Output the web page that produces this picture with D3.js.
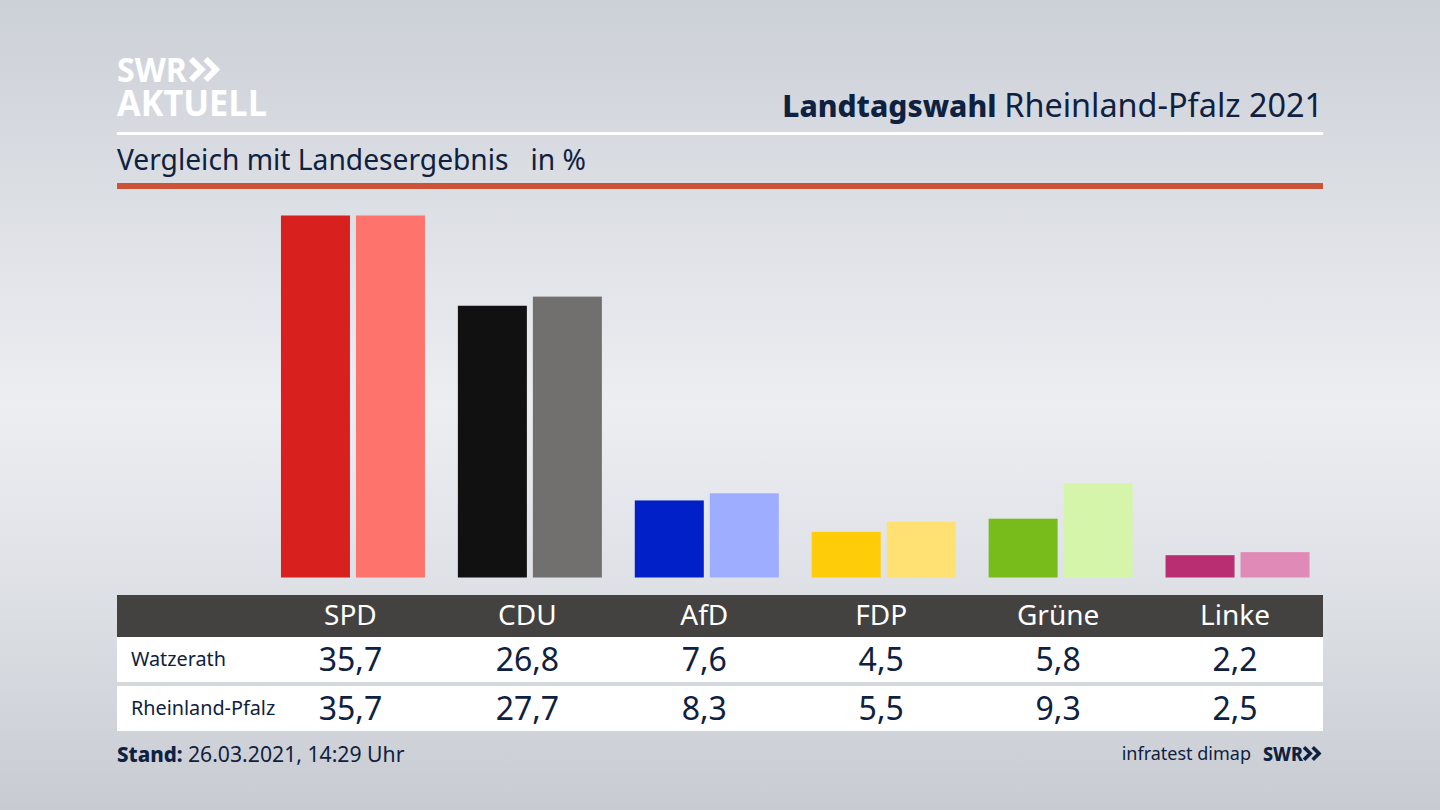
<!DOCTYPE html>
<html><head><meta charset="utf-8">
<script src="https://cdn.jsdelivr.net/npm/d3@7/dist/d3.min.js"></script>
<style>html,body{margin:0;padding:0;background:#dfe1e6;overflow:hidden}svg{display:block}text{font-family:"Noto Sans",sans-serif}</style>
</head><body><svg id="c" width="1440" height="810"></svg>
<script>
const parties=["SPD","CDU","AfD","FDP","Grüne","Linke"];
const rows=["Watzerath","Rheinland-Pfalz"];
const watzerath=[35.7,26.8,7.6,4.5,5.8,2.2];
const rheinlandPfalz=[35.7,27.7,8.3,5.5,9.3,2.5];
const colorsLocal=["#d8201f","#111111","#0220c8","#ffcc0a","#78bc1c","#b92e72"];
const colorsState=["#ff736d","#72706e","#9eadff","#ffe173","#d5f6aa","#e08ab8"];
const ink="#0f2140";

const svg=d3.select("#c");
const defs=svg.append("defs");
const g=defs.append("linearGradient").attr("id","bg").attr("x1",0).attr("x2",0).attr("y1",0).attr("y2",1);
[[0,"#ccd0d7"],[0.25,"#dcdfe4"],[0.5,"#eceef2"],[0.75,"#dcdfe4"],[1,"#c8ccd2"]].forEach(d=>g.append("stop").attr("offset",d[0]).attr("stop-color",d[1]));
svg.append("rect").attr("width",1440).attr("height",810).attr("fill","url(#bg)");

const x=d3.scaleBand().domain(parties).range([264.5,1326]);
const inner=d3.scaleBand().domain([0,1]).range([-72,72]).paddingInner(0.08);
const y=d3.scaleLinear().domain([0,35.7]).range([577.5,215.5]);
const cx=p=>x(p)+x.bandwidth()/2;

function chev(sel,px,py,s,col){
  [0,0.58].forEach(o=>sel.append("path").attr("d",d3.line()([[px+o*s,py+0.08*s],[px+o*s+0.42*s,py+0.5*s],[px+o*s,py+0.92*s]]))
    .attr("fill","none").attr("stroke",col).attr("stroke-width",s*0.24));
}
const logo="'Open Sans',sans-serif";
svg.append("text").attr("x",117).attr("y",82).attr("fill","#fff").attr("font-size",34).attr("font-weight",700).style("font-family",logo).attr("textLength",70).attr("lengthAdjust","spacingAndGlyphs").text("SWR");
chev(svg,191,57,25,"#fff");
svg.append("text").attr("x",117).attr("y",116).attr("fill","#fff").attr("font-size",36).attr("font-weight",700).style("font-family",logo).attr("textLength",150).attr("lengthAdjust","spacingAndGlyphs").text("AKTUELL");

const title=svg.append("text").attr("x",1323).attr("y",117).attr("text-anchor","end").attr("fill",ink);
title.append("tspan").attr("font-weight",800).attr("font-size",30).text("Landtagswahl ");
title.append("tspan").attr("font-size",32.4).text("Rheinland-Pfalz 2021");
svg.append("rect").attr("x",117).attr("y",132).attr("width",1206).attr("height",3).attr("fill","#fff");
svg.append("text").attr("x",117).attr("y",170).attr("fill",ink).attr("font-size",28.2).style("white-space","pre").text("Vergleich mit Landesergebnis   in %");
svg.append("rect").attr("x",117).attr("y",183).attr("width",1206).attr("height",6).attr("fill","#cc5238");

const groups=svg.selectAll("g.party").data(parties).join("g").attr("class","party").attr("transform",p=>`translate(${cx(p)},0)`);
groups.append("rect").attr("x",inner(0)).attr("width",inner.bandwidth()).attr("y",(p,i)=>y(watzerath[i])).attr("height",(p,i)=>y(0)-y(watzerath[i])).attr("fill",(p,i)=>colorsLocal[i]);
groups.append("rect").attr("x",inner(1)).attr("width",inner.bandwidth()).attr("y",(p,i)=>y(rheinlandPfalz[i])).attr("height",(p,i)=>y(0)-y(rheinlandPfalz[i])).attr("fill",(p,i)=>colorsState[i]);

const fmt=v=>v.toFixed(1).replace(".",",");
const tx=p=>cx(p)-2.5;
svg.append("rect").attr("x",117).attr("y",595).attr("width",1206).attr("height",42).attr("fill","#434240");
svg.selectAll("text.head").data(parties).join("text").attr("class","head").attr("x",tx).attr("y",625).attr("text-anchor","middle").attr("fill","#fff").attr("font-size",28).text(d=>d);
[[637,45,watzerath,671],[686,45,rheinlandPfalz,720]].forEach((r,k)=>{
  svg.append("rect").attr("x",117).attr("y",r[0]).attr("width",1206).attr("height",r[1]).attr("fill","#fff");
  svg.append("text").attr("x",131).attr("y",r[3]-5).attr("fill",ink).attr("font-size",19.8).text(rows[k]);
  svg.selectAll("text.v"+k).data(parties).join("text").attr("class","v"+k).attr("x",tx).attr("y",r[3]).attr("text-anchor","middle").attr("fill",ink).attr("font-size",32).text((p,i)=>fmt(r[2][i]));
});

const st=svg.append("text").attr("x",117).attr("y",762).attr("fill",ink);
st.append("tspan").attr("font-weight",800).attr("font-size",20.5).text("Stand: ");
st.append("tspan").attr("font-size",21.2).text("26.03.2021, 14:29 Uhr");
svg.append("text").attr("x",1251).attr("y",760).attr("text-anchor","end").attr("fill",ink).attr("font-size",18).text("infratest dimap");
svg.append("text").attr("x",1263).attr("y",761).attr("fill",ink).attr("font-size",20).attr("font-weight",800).attr("textLength",40).attr("lengthAdjust","spacingAndGlyphs").text("SWR");
chev(svg,1304,746,15,ink);
</script></body></html>
